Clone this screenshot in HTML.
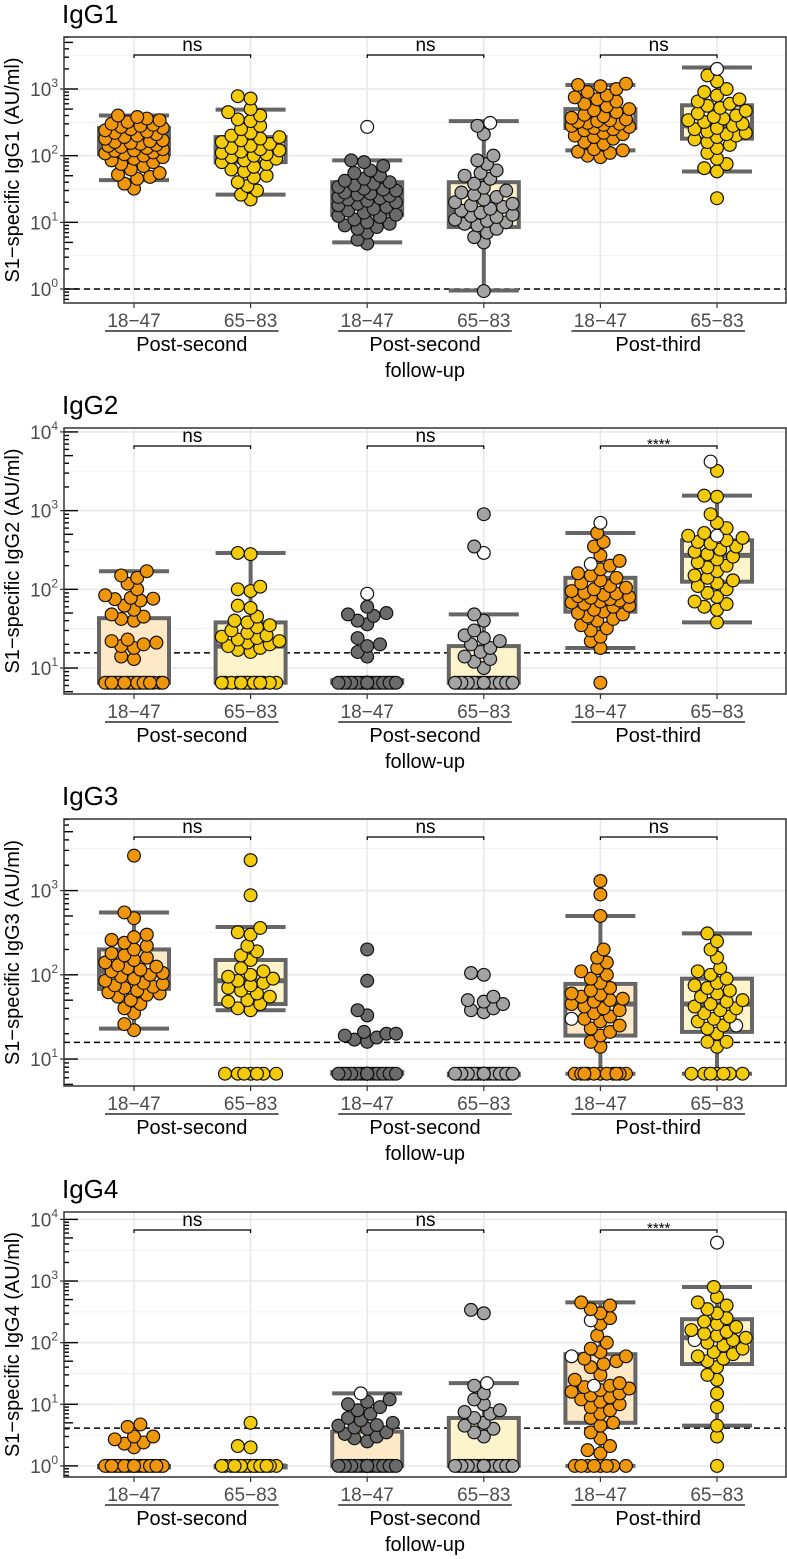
<!DOCTYPE html>
<html><head><meta charset="utf-8">
<style>
html,body{margin:0;padding:0;background:#fff;}
svg{display:block;font-family:"Liberation Sans",Arial,sans-serif;}
</style></head>
<body>
<svg id="chart" width="787" height="1559" viewBox="0 0 787 1559" xmlns="http://www.w3.org/2000/svg"></svg>
<script>
// ---------- data ----------
const categories = ["18−47","65−83","18−47","65−83","18−47","65−83"];
const groupLabels = [["Post-second"],["Post-second","follow-up"],["Post-third"]];
const panelTitles = ["IgG1","IgG2","IgG3","IgG4"];
const sigLabels = [["ns","ns","ns"],["ns","ns","****"],["ns","ns","ns"],["ns","ns","****"]];
const dashedValues = [1, 15.6, 15.8, 4.1];

// box stats: [lower whisker, q1, median, q3, upper whisker]
const igg1Box = [[43,105,150,260,400],[26,80,115,190,490],[5,13,24,40,85],[0.95,8.5,15,40,330],[120,260,330,500,1150],[58,180,280,570,2100]];
const igg2Box = [[6.5,6.5,6.5,43,170],[6.5,6.5,19,38,290],[6.5,6.5,6.5,7,7],[6.5,6.5,6.5,19,48],[18,52,80,140,520],[38,125,270,420,1550]];
const igg3Box = [[23,68,110,200,550],[38,45,85,150,370],[6.7,6.7,6.7,7,7],[6.7,6.7,6.7,6.7,6.7],[6.7,19,45,78,500],[6.7,21,45,90,310]];
const igg4Box = [[1,1,1,1,1],[1,1,1,1,1],[1,1,1,3.6,15],[1,1,1,6,22],[1,5,18,65,450],[4.5,45,120,240,800]];

const igg1Pts = [
 [32,38,45,48,52,55,62,70,75,80,85,90,95,100,105,108,112,118,120,125,130,135,140,145,150,155,160,165,170,180,190,200,210,220,230,240,250,260,270,280,290,300,320,340,360,380,400],
 [22,26,30,35,40,47,50,58,62,68,75,80,85,90,95,100,105,110,115,120,125,130,140,150,160,170,180,190,200,220,250,280,330,350,400,450,500,720,780],
 [4.8,5.5,7,8,8.5,9,9.5,10,11,12,12.5,13,14,15,16,17,18,19,20,21,22,23,24,25,26,27,28,30,31,32,34,36,38,40,42,45,50,55,60,70,80,85],
 [0.93,5,6,7,8,9,9.5,10,10.5,11,12,12.5,13,14,15,16,17,18,19,20,22,24,26,28,30,33,38,45,50,55,60,75,85,100,210,280],
 [95,100,110,115,120,125,150,160,180,190,200,210,220,240,250,260,270,280,290,300,310,320,330,340,350,370,390,410,450,480,500,550,600,650,700,750,800,900,1000,1100,1150,1200],
 [23,58,65,75,90,110,130,145,160,175,190,200,210,220,230,250,260,280,300,320,340,360,380,400,430,470,520,560,600,650,700,800,900,1000,1300,1600]];
const igg1Open = [[],[],[270],[310],[],[2000]];

const igg2Pts = [
 [6.5,6.5,6.5,6.5,6.5,6.5,6.5,6.5,6.5,6.5,6.5,6.5,6.5,6.5,6.5,6.5,6.5,6.5,13,14,18,19,20,21,23,22,40,42,45,48,55,62,72,75,76,78,84,100,118,140,150,170],
 [6.5,6.5,6.5,6.5,6.5,6.5,6.5,6.5,6.5,6.5,6.5,6.5,6.5,6.5,16,17,18,19,20,21,22,23,24,25,26,28,30,33,35,38,40,45,58,62,95,100,108,280,290],
 [6.5,6.5,6.5,6.5,6.5,6.5,6.5,6.5,6.5,6.5,6.5,6.5,6.5,6.5,6.5,6.5,6.5,6.5,6.5,6.5,6.5,6.5,14,16,19,20,24,36,40,46,48,50,60],
 [6.5,6.5,6.5,6.5,6.5,6.5,6.5,6.5,6.5,6.5,6.5,6.5,6.5,6.5,6.5,6.5,6.5,6.5,6.5,6.5,10,12,13,14,16,18,20,22,24,26,30,40,48,350,900],
 [6.5,18,22,25,30,32,35,40,42,45,48,50,52,55,60,62,65,68,70,72,75,78,80,82,85,88,90,95,100,105,110,120,130,140,150,160,180,200,230,270,350,400,520],
 [38,55,60,65,70,80,90,100,110,120,130,140,150,170,190,200,220,240,260,280,300,320,350,380,400,420,450,480,520,600,700,900,1500,1550,3200]];
const igg2Open = [[],[],[88],[290],[700,210],[4200,480]];

const igg3Pts = [
 [22,26,35,40,45,50,55,58,60,62,65,70,72,75,78,80,85,90,95,100,105,110,115,120,125,130,140,150,160,170,180,200,220,240,260,280,300,470,550,2600],
 [6.7,6.7,6.7,6.7,6.7,6.7,6.7,38,40,45,48,50,55,60,65,70,75,80,85,90,95,100,110,120,150,170,190,220,300,320,360,880,2300],
 [6.7,6.7,6.7,6.7,6.7,6.7,6.7,6.7,6.7,6.7,6.7,6.7,6.7,6.7,6.7,6.7,6.7,6.7,6.7,6.7,6.7,6.7,6.7,6.7,16,17,18,19,20,20,21,33,38,85,200],
 [6.7,6.7,6.7,6.7,6.7,6.7,6.7,6.7,6.7,6.7,6.7,6.7,6.7,6.7,6.7,6.7,6.7,6.7,6.7,6.7,6.7,6.7,36,38,40,45,48,50,55,100,105],
 [6.7,6.7,6.7,6.7,6.7,6.7,6.7,6.7,6.7,6.7,6.7,14,16,19,21,23,25,28,30,32,35,38,40,42,45,48,50,52,55,58,60,65,70,80,90,100,110,120,140,160,200,500,900,1300],
 [6.7,6.7,6.7,6.7,6.7,6.7,6.7,14,16,16,20,23,25,28,30,32,35,38,40,42,45,48,50,55,60,65,70,75,80,90,100,110,120,160,200,250,310]];
const igg3Open = [[],[],[],[],[30],[25]];

const igg4Pts = [
 [1,1,1,1,1,1,1,1,1,1,1,1,1,1,1,1,1,1,1,1,2,2.3,2.4,2.7,3,3,4.3,4.7],
 [1,1,1,1,1,1,1,1,1,1,1,1,1,1,1,1,2,2.1,5],
 [1,1,1,1,1,1,1,1,1,1,1,1,1,1,1,1,1,1,1,1,1,1,2.5,2.8,3,3.3,3.5,4,4.2,4.5,4.6,5,5.5,6,7,8,9,10,11,12],
 [1,1,1,1,1,1,1,1,1,1,1,1,1,1,1,1,1,1,1,1,1,1,3,3.5,4,4.5,5,6,7,7.5,8,10,12,15,20,300,340],
 [1,1,1,1,1,1,1,1,1.6,1.8,2.1,2.8,3.5,4.5,5,6,7,8,9,10,11,12,13,14,15,16,17,18,19,20,22,25,30,40,45,50,55,60,70,80,100,130,200,250,300,350,400,450],
 [1,3,4.5,9,15,25,30,40,50,55,60,65,70,80,90,100,110,120,130,140,150,160,180,200,220,250,300,350,400,450,550,800]];
const igg4Open = [[],[],[15],[22],[230,20,60],[4200,110]];

const allBoxes = [igg1Box, igg2Box, igg3Box, igg4Box];
const allPts = [igg1Pts, igg2Pts, igg3Pts, igg4Pts];
const allOpen = [igg1Open, igg2Open, igg3Open, igg4Open];

// ---------- layout ----------
const panelTop = [37, 428, 819, 1212];
const panelBottom = [303, 694, 1086, 1477];
const logTop = [3.78, 4.05, 3.85, 4.12];
const logBottom = [-0.21, 0.67, 0.68, -0.18];
const PL = 64, PR = 786, X0 = 134, DX = 116.6, BW = 35, R = 6.4;
const ptFill = ["#f0960c","#f3cb0b","#6b6b6b","#a3a3a3","#f0960c","#f3cb0b"];
const boxFill = ["#fde8c8","#fdf4cc","#fde8c8","#fdf4cc","#fde8c8","#fdf4cc"];
const NS = "http://www.w3.org/2000/svg";
const svg = document.getElementById("chart");
function mk(tag, attrs, parent){const e=document.createElementNS(NS,tag);for(const k in attrs)e.setAttribute(k,attrs[k]);(parent||svg).appendChild(e);return e;}
function xc(i){return X0 + i*DX;}

for (let p=0;p<4;p++){
  const top=panelTop[p], bot=panelBottom[p], lt=logTop[p], lb=logBottom[p];
  const y = v => top + (lt - Math.log10(v))/(lt-lb)*(bot-top);
  const g = mk("g",{});
  
  
  const title = mk("text",{x:PL-2,y:top-14,"font-size":26,fill:"#000"},g);
  title.textContent = panelTitles[p];
  
  
  const kmin=Math.ceil(lb), kmax=Math.floor(lt);
  for(let k=Math.floor(lb);k<=Math.ceil(lt);k++){
    const ym = y(Math.pow(10,k+0.5));
    if(ym>top && ym<bot){ const l=mk("line",{x1:PL,x2:PR,y1:ym,y2:ym,stroke:"#f3f3f3","stroke-width":1},g);   }
  }
  for(let k=kmin;k<=kmax;k++){
    const l=mk("line",{x1:PL,x2:PR,y1:y(Math.pow(10,k)),y2:y(Math.pow(10,k)),stroke:"#e9e9e9","stroke-width":1.6},g);
    
    
  }
  for(let i=0;i<6;i++){
    const l=mk("line",{x1:xc(i),x2:xc(i),y1:top,y2:bot,stroke:"#e9e9e9","stroke-width":1.6},g);
    
    
  }
  for(let k=Math.floor(lb);k<=Math.ceil(lt);k++){
    for(let m=1;m<=9;m++){
      const v=m*Math.pow(10,k); const yy=y(v);
      if(yy<top||yy>bot) continue;
      const len = m===1?14:(m===5?9:5);
      const t=mk("line",{x1:PL,x2:PL+len,y1:yy,y2:yy,stroke:"#000","stroke-width":1.4},g);
      
      
    }
  }
  for(let k=kmin;k<=kmax;k++){
    const yy=y(Math.pow(10,k));
    mk("line",{x1:PL-4,x2:PL,y1:yy,y2:yy,stroke:"#333","stroke-width":1.2},g);
    const t=mk("text",{x:58,y:yy+7,"font-size":19,fill:"#4d4d4d","text-anchor":"end"},g);
    
    
    t.innerHTML='10<tspan font-size="12" dy="-9">'+k+'</tspan>';
  }
  const dl=mk("line",{x1:PL,x2:PR,y1:y(dashedValues[p]),y2:y(dashedValues[p]),stroke:"#000","stroke-width":1.5,"stroke-dasharray":"6,4"},g);
  
  
  const boxes=allBoxes[p];
  for(let i=0;i<6;i++){
    const [lo,q1,md,q3,hi]=boxes[i]; const cx=xc(i);
    const bg=mk("g",{},g);
    
    
    const st={stroke:"#666","stroke-width":4};
    if(y(hi)<y(q3)-0.5){mk("line",Object.assign({x1:cx,x2:cx,y1:y(hi),y2:y(q3)},st),bg);mk("line",Object.assign({x1:cx-BW,x2:cx+BW,y1:y(hi),y2:y(hi)},st),bg);}
    if(y(lo)>y(q1)+0.5){mk("line",Object.assign({x1:cx,x2:cx,y1:y(q1),y2:y(lo)},st),bg);mk("line",Object.assign({x1:cx-BW,x2:cx+BW,y1:y(lo),y2:y(lo)},st),bg);}
    const h=Math.max(y(q1)-y(q3),1.5);
    mk("rect",Object.assign({x:cx-BW,y:y(q3),width:2*BW,height:h,fill:boxFill[i]},st),bg);
    mk("line",{x1:cx-BW,x2:cx+BW,y1:y(md),y2:y(md),stroke:"#666","stroke-width":5},bg);
  }
  for(let i=0;i<6;i++){
    const vals=allPts[p][i].map(v=>({v:v,open:false})).concat(allOpen[p][i].map(v=>({v:v,open:true})));
    vals.sort((a,b)=>a.v-b.v);
    const placed=[]; const cx=xc(i);
    for(const o of vals){
      const yy=y(o.v); let best=0,bestD=-1;
      for(let s=0;s<=12;s++){
        for(const sg of (s===0?[0]:[-1,1])){
          const off=sg*s*3.2; if(Math.abs(off)>31) continue;
          let md2=1e9; for(const q of placed){const d=Math.hypot(q.x-(cx+off),q.y-yy); if(d<md2) md2=d;}
          if(md2>=2*R*0.8){ if(bestD<1e8){best=off;bestD=1e9;} }
          else if(bestD<1e8 && md2>bestD){best=off;bestD=md2;}
        }
        if(bestD>=1e9) break;
      }
      placed.push({x:cx+best,y:yy,open:o.open});
    }
    for(const q of placed){
      const c=mk("circle",{cx:q.x,cy:q.y,r:R,fill:q.open?"#fff":ptFill[i],stroke:"#111","stroke-width":1.2},g);
      
      
    }
  }
  const fr=mk("rect",{x:PL,y:top,width:PR-PL,height:bot-top,fill:"none",stroke:"#333","stroke-width":1.5},g);
  
  
  for(let j=0;j<3;j++){
    const a=xc(2*j), b=xc(2*j+1), by=top+18;
    const br=mk("path",{d:`M${a},${by+3}V${by}H${b}V${by+3}`,fill:"none",stroke:"#000","stroke-width":1.2},g);
    
    
    const lab=sigLabels[p][j];
    const t=mk("text",{x:(a+b)/2,y:lab==="ns"?top+14:top+21,"font-size":lab==="ns"?19:15,"text-anchor":"middle",fill:"#000"},g);
    t.textContent=lab;
    
    
  }
  for(let i=0;i<6;i++){
    mk("line",{x1:xc(i),x2:xc(i),y1:bot,y2:bot+5,stroke:"#333","stroke-width":1.2},g);
    const t=mk("text",{x:xc(i),y:bot+24,"font-size":19,"text-anchor":"middle",fill:"#4d4d4d"},g);
    t.textContent=categories[i];
    
    
  }
  for(let j=0;j<3;j++){
    const a=xc(2*j)-29, b=xc(2*j+1)+28;
    const u=mk("line",{x1:a,x2:b,y1:bot+28,y2:bot+28,stroke:"#000","stroke-width":1.3},g);
    
    
    groupLabels[j].forEach((s,li)=>{
      const t=mk("text",{x:(a+b)/2,y:bot+48+li*26,"font-size":20,"text-anchor":"middle",fill:"#000"},g);
      t.textContent=s;
      
      
    });
  }
  const cy=(top+bot)/2;
  const yt=mk("text",{x:0,y:0,"font-size":20,"text-anchor":"middle",fill:"#000",transform:`translate(19,${cy}) rotate(-90)`},g);
  yt.textContent="S1−specific "+panelTitles[p]+" (AU/ml)";
  
  
}
</script>
</body></html>
